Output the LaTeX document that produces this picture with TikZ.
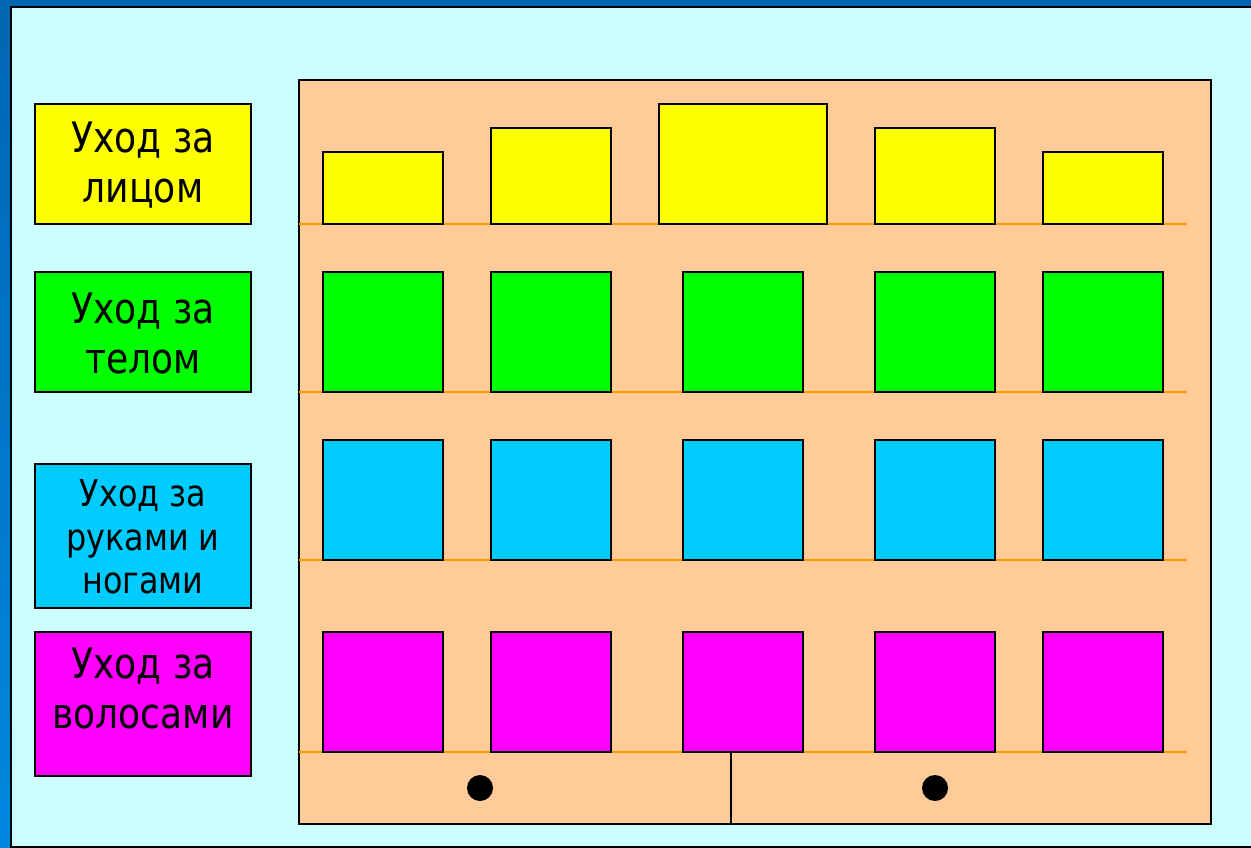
\documentclass[tikz,border=0pt]{standalone}
\usepackage{fontspec}
\setmainfont{DejaVu Sans}[FakeStretch=0.86]

\definecolor{frameblue}{HTML}{0066B3}
\definecolor{framelight}{HTML}{0088E0}
\definecolor{slidebg}{HTML}{CCFFFF}
\definecolor{cabinet}{HTML}{FFCC99}
\definecolor{shelfline}{HTML}{FF9900}
\definecolor{faceyellow}{HTML}{FFFF00}
\definecolor{bodygreen}{HTML}{00FF00}
\definecolor{handsblue}{HTML}{00CCFF}
\definecolor{hairpink}{HTML}{FF00FF}

\begin{document}
\begin{tikzpicture}[x=1pt, y=-1pt,
    lblbox/.style={draw=black, line width=2pt, minimum width=216pt, inner sep=0pt},
    lbltext/.style={align=center, font=\fontsize{42}{50}\selectfont},
    smalltext/.style={align=center, font=\fontsize{37}{43.5}\selectfont},
    shelfbox/.style={draw=black, line width=2pt},
    shelfline/.style={draw=shelfline, line width=2pt}]
  \useasboundingbox (0,0) rectangle (1251,848);
  % Fundal slide
  \fill[frameblue] (0,0) rectangle (1251,848);
  \shade[top color=frameblue, bottom color=framelight] (0,8) rectangle (10.5,848);
  \filldraw[fill=slidebg, draw=black, line width=2pt] (10.5,7.5) rectangle (1253,847);
  % Etichete stanga
  \node[lblbox, fill=faceyellow, minimum height=120pt] (face) at (143,164) {};
  \node[lbltext] (facetxt) at (143,165) {Уход за\\лицом};
  \node[lblbox, fill=bodygreen, minimum height=120pt] (body) at (143,332) {};
  \node[lbltext] (bodytxt) at (143,333) {Уход за\\телом};
  \node[lblbox, fill=handsblue, minimum height=144pt] (hands) at (143,536) {};
  \node[smalltext] (handstxt) at (143,537) {Уход за\\руками и\\ногами};
  \node[lblbox, fill=hairpink, minimum height=144pt] (hair) at (143,704) {};
  \node[lbltext] (hairtxt) at (143,688) {Уход за\\волосами};
  % Dulap
  \filldraw[fill=cabinet, draw=black, line width=2pt] (299,80) rectangle (1211,824);
  % Linii de raft
  \foreach \y in {224,392,560,752} {
    \draw[shelfline] (299,\y) -- (1187,\y);
  }
  % Raftul de sus -- cutii galbene de inaltimi diferite
  \filldraw[shelfbox, fill=faceyellow] (323,152) rectangle (443,224);
  \filldraw[shelfbox, fill=faceyellow] (491,128) rectangle (611,224);
  \filldraw[shelfbox, fill=faceyellow] (659,104) rectangle (827,224);
  \filldraw[shelfbox, fill=faceyellow] (875,128) rectangle (995,224);
  \filldraw[shelfbox, fill=faceyellow] (1043,152) rectangle (1163,224);
  % Celelalte trei rafturi
  \foreach \x in {323,491,683,875,1043} {
    \filldraw[shelfbox, fill=bodygreen] (\x,272) rectangle ++(120,120);
    \filldraw[shelfbox, fill=handsblue] (\x,440) rectangle ++(120,120);
    \filldraw[shelfbox, fill=hairpink]  (\x,632) rectangle ++(120,120);
  }
  % Usi jos
  \draw[black, line width=2pt] (731,752) -- (731,824);
  \fill[black] (480,788) circle (13pt);
  \fill[black] (935,788) circle (13pt);
\end{tikzpicture}
\end{document}
